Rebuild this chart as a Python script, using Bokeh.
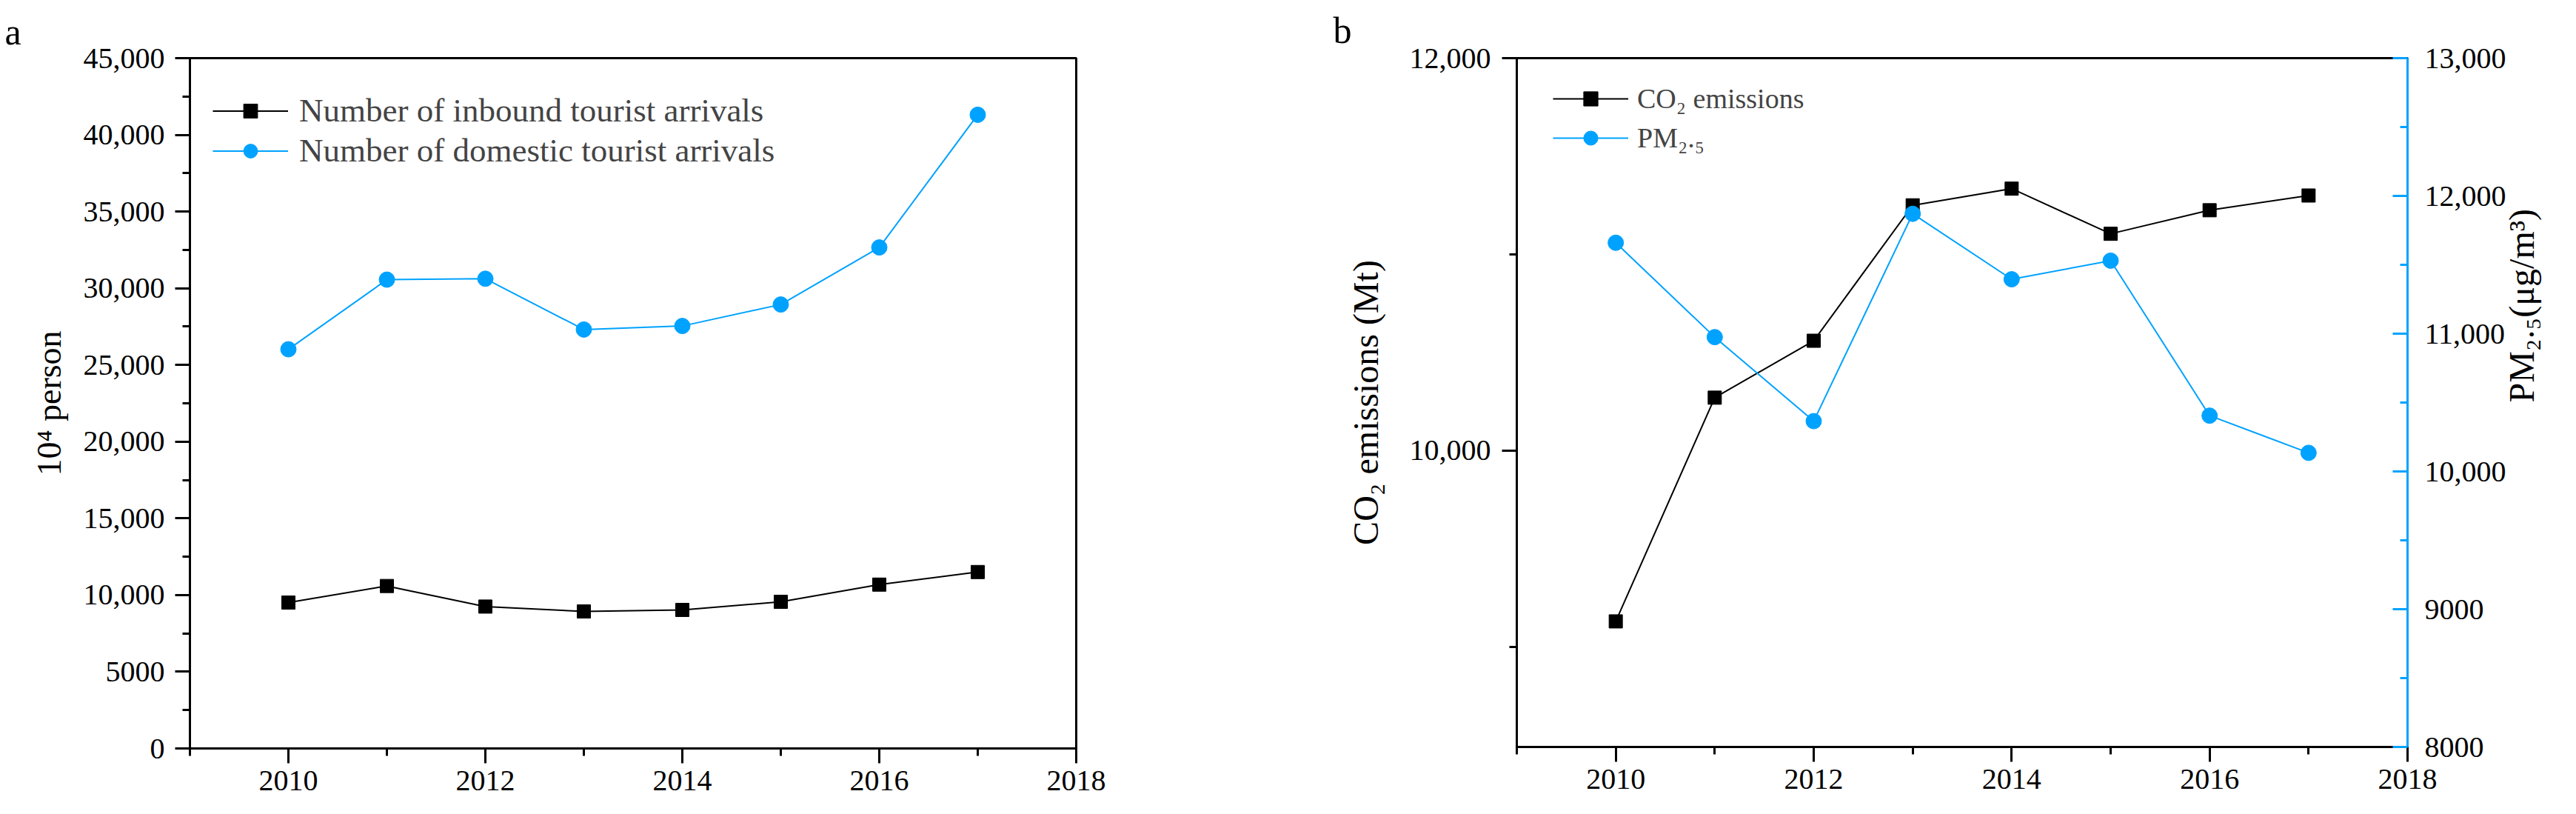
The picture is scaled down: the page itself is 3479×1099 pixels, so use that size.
import math
from bokeh.plotting import figure
from bokeh.models import (Range1d, LinearAxis, FixedTicker, Legend, LegendItem,
                          Title, CustomJSTickFormatter)
from bokeh.layouts import row
from bokeh.embed import file_html
from bokeh.resources import INLINE

# ---------------- data ----------------
years = [2010, 2011, 2012, 2013, 2014, 2015, 2016, 2017]
inbound = [9510, 10590, 9250, 8930, 9030, 9560, 10680, 11500]
domestic = [26020, 30560, 30620, 27310, 27540, 28940, 32660, 41310]
co2 = [9130, 10270, 10560, 11250, 11335, 11105, 11225, 11300]
pm25 = [11660, 10975, 10365, 11870, 11395, 11530, 10405, 10135]

x_major = [2010, 2012, 2014, 2016, 2018]
x_minor = [2009, 2011, 2013, 2015, 2017]
a_y_major = [0, 5000, 10000, 15000, 20000, 25000, 30000, 35000, 40000, 45000]
a_y_minor = [2500, 7500, 12500, 17500, 22500, 27500, 32500, 37500, 42500]
b_left_major = [10000, 12000]
b_left_minor = [9000, 11000]
b_right_major = [8000, 9000, 10000, 11000, 12000, 13000]
b_right_minor = [8500, 9500, 10500, 11500, 12500]

labels_a = ["Number of inbound tourist arrivals", "Number of domestic tourist arrivals"]
labels_b = ["CO\u2082 emissions", "PM\u2082.\u2085"]

BLACK = "#000000"
BLUE = "#00A2FF"
FONT = "Liberation Serif"

fmt_code = "return tick >= 10000 ? tick.toLocaleString('en-US') : tick.toString();"


def style_axis(ax, color=BLACK, size="40px", tick_in=False):
    ax.axis_line_color = color
    ax.axis_line_width = 3
    ax.major_tick_line_color = color
    ax.major_tick_line_width = 3
    ax.minor_tick_line_color = color
    ax.minor_tick_line_width = 3
    if tick_in:
        ax.major_tick_in = 20
        ax.major_tick_out = 0
        ax.minor_tick_in = 10
        ax.minor_tick_out = 0
    else:
        ax.major_tick_in = 0
        ax.major_tick_out = 20
        ax.minor_tick_in = 0
        ax.minor_tick_out = 10
    ax.major_label_text_font = FONT
    ax.major_label_text_font_size = size
    ax.major_label_text_color = BLACK
    ax.axis_label_text_font = FONT
    ax.axis_label_text_font_style = "normal"
    ax.axis_label_text_color = BLACK


def panel_letter(text, offset, standoff):
    return Title(text=text, align="left", offset=offset, standoff=standoff,
                 text_font=FONT, text_font_size="50px", text_font_style="normal",
                 text_color=BLACK, vertical_align="bottom")


# ---------------- panel a ----------------
FW_A, FH_A = 1197, 932
pa = figure(frame_width=FW_A, frame_height=FH_A,
            x_range=Range1d(2009, 2018), y_range=Range1d(0, 45000),
            min_border_left=256, min_border_right=247,
            min_border_top=68, min_border_bottom=83,
            output_backend="svg", toolbar_location=None)
pa.xgrid.visible = False
pa.ygrid.visible = False
pa.outline_line_color = BLACK
pa.outline_line_width = 3
pa.outline_line_alpha = 1

xa = pa.xaxis[0]
style_axis(xa)
xa.ticker = FixedTicker(ticks=x_major, minor_ticks=x_minor)
xa.major_label_standoff = 10

ya = pa.yaxis[0]
style_axis(ya)
ya.ticker = FixedTicker(ticks=a_y_major, minor_ticks=a_y_minor)
ya.formatter = CustomJSTickFormatter(code=fmt_code)
ya.major_label_standoff = 14
ya.axis_label = "10\u2074 person"
ya.axis_label_text_font_size = "46px"
ya.axis_label_standoff = 18

la1 = pa.line(years, inbound, line_color=BLACK, line_width=2)
sa1 = pa.scatter(years, inbound, marker="square", size=18, fill_color=BLACK, line_color=BLACK)
la2 = pa.line(years, domestic, line_color=BLUE, line_width=2)
sa2 = pa.scatter(years, domestic, marker="circle", size=21, fill_color=BLUE, line_color=BLUE)

leg_a = Legend(items=[LegendItem(label=labels_a[0], renderers=[la1, sa1]),
                      LegendItem(label=labels_a[1], renderers=[la2, sa2])],
               location=(31, FH_A - 151), glyph_width=102, glyph_height=47,
               label_standoff=15, spacing=2, padding=0, margin=0,
               border_line_color=None, background_fill_alpha=0,
               label_text_font=FONT, label_text_font_size="45px")
pa.add_layout(leg_a)
pa.add_layout(panel_letter("a", -250, 16), "above")

# ---------------- panel b ----------------
FW_B, FH_B = 1203, 930
pb = figure(frame_width=FW_B, frame_height=FH_B,
            x_range=Range1d(2009, 2018), y_range=Range1d(8490, 12000),
            min_border_left=348, min_border_right=212,
            min_border_top=76, min_border_bottom=77,
            output_backend="svg", toolbar_location=None)
pb.xgrid.visible = False
pb.ygrid.visible = False
pb.outline_line_color = BLACK
pb.outline_line_width = 3
pb.outline_line_alpha = 1
pb.extra_y_ranges = {"pm": Range1d(8000, 13000)}

xb = pb.xaxis[0]
style_axis(xb)
xb.ticker = FixedTicker(ticks=x_major, minor_ticks=x_minor)
xb.major_label_standoff = 10

yb = pb.yaxis[0]
style_axis(yb)
yb.ticker = FixedTicker(ticks=b_left_major, minor_ticks=b_left_minor)
yb.formatter = CustomJSTickFormatter(code=fmt_code)
yb.major_label_standoff = 15
yb.axis_label = "CO\u2082 emissions (Mt)"
yb.axis_label_text_font_size = "48px"
yb.axis_label_standoff = 30

yr = LinearAxis(y_range_name="pm")
style_axis(yr, color=BLUE, tick_in=True)
yr.ticker = FixedTicker(ticks=b_right_major, minor_ticks=b_right_minor)
yr.formatter = CustomJSTickFormatter(code=fmt_code)
yr.major_label_standoff = 23
yr.axis_label = "PM\u2082.\u2085(\u03bcg/m\u00b3)"
yr.axis_label_text_font_size = "48px"
yr.axis_label_standoff = 18
try:
    yr.axis_label_orientation = math.pi / 2
except Exception:
    pass
pb.add_layout(yr, "right")

lb1 = pb.line(years, co2, line_color=BLACK, line_width=2)
sb1 = pb.scatter(years, co2, marker="square", size=18, fill_color=BLACK, line_color=BLACK)
lb2 = pb.line(years, pm25, line_color=BLUE, line_width=2, y_range_name="pm")
sb2 = pb.scatter(years, pm25, marker="circle", size=21, fill_color=BLUE, line_color=BLUE,
                 y_range_name="pm")

leg_b = Legend(items=[LegendItem(label=labels_b[0], renderers=[lb1, sb1]),
                      LegendItem(label=labels_b[1], renderers=[lb2, sb2])],
               location=(49, FH_B - 132), glyph_width=102, glyph_height=48,
               label_standoff=12, spacing=5, padding=0, margin=0,
               border_line_color=None, background_fill_alpha=0,
               label_text_font=FONT, label_text_font_size="38px")
pb.add_layout(leg_b)
pb.add_layout(panel_letter("b", -248, 20), "above")

layout = row(pa, pb)
open("out.html", "w").write(file_html(layout, INLINE))
